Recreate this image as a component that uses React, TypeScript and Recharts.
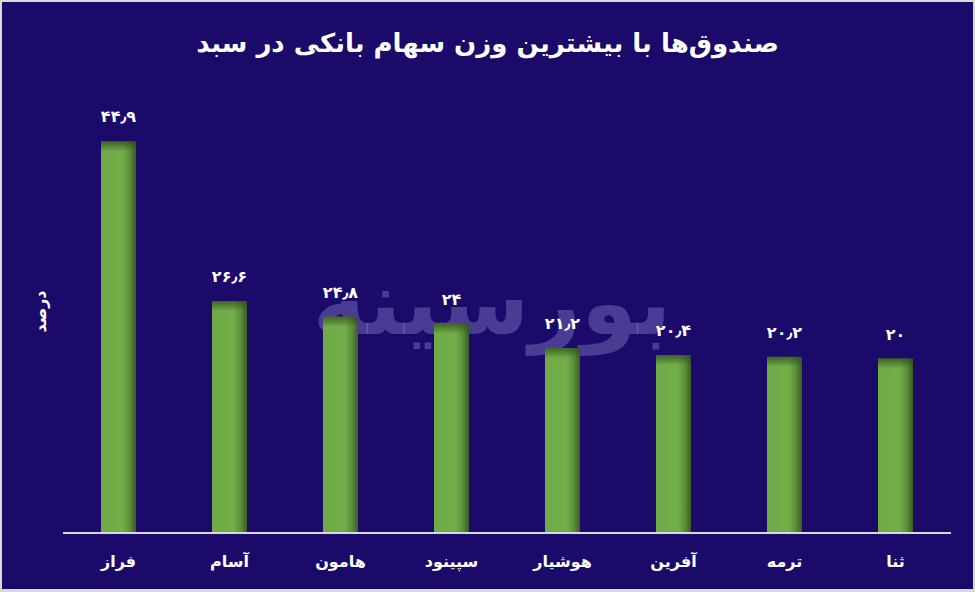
import { BarChart, Bar, XAxis, YAxis, LabelList } from 'recharts';

const funds = ['فراز', 'آسام', 'هامون', 'سپینود', 'هوشیار', 'آفرین', 'ترمه', 'ثنا'];
const weights = [44.9, 26.6, 24.8, 24, 21.2, 20.4, 20.2, 20];

const title = 'صندوق‌ها با بیشترین وزن سهام بانکی در سبد';
const yLabel = 'درصد';
const watermark = 'بورسینه';

const BG = '#1b0a69';
const FONT = '"DejaVu Sans", sans-serif';

const toFa = (v: number | string) =>
  String(v).replace('.', '٫').replace(/\d/g, d => '۰۱۲۳۴۵۶۷۸۹'[Number(d)]);

const data = funds.map((name, i) => ({ name, value: weights[i] }));

const GreenBar = (props: any) => {
  const { x, y, width, height } = props;
  if (!height || height <= 0) return null;
  return (
    <g>
      <rect x={x} y={y} width={width} height={height} fill="url(#barH)" />
      <rect x={x} y={y} width={width} height={Math.min(10, height)} fill="url(#barTop)" />
    </g>
  );
};

const FundTick = (props: any) => {
  const { x, y, payload } = props;
  return (
    <text x={x} y={y + 21} textAnchor="middle" dominantBaseline="middle"
      fill="#fff" fontSize={16} fontWeight="bold" fontFamily={FONT}>
      {payload.value}
    </text>
  );
};

export default function App() {
  return (
    <div style={{ position: 'absolute', left: 0, top: 0, width: 975, height: 592, background: '#d9d9d9' }}>
      <div style={{ position: 'absolute', left: 2, top: 2, width: 971, height: 587, background: BG, overflow: 'hidden' }}>
        <div style={{
          position: 'absolute', left: 0, top: 26, width: 971, textAlign: 'center',
          color: '#fff', fontFamily: FONT, fontWeight: 'bold', fontSize: 26, direction: 'rtl',
        }}>
          {title}
        </div>
        <div style={{
          position: 'absolute', left: 280, top: 248, width: 420, textAlign: 'center',
          color: 'rgba(120,110,190,0.5)', fontFamily: FONT, fontWeight: 'bold', fontSize: 90, direction: 'rtl',
        }}>
          {watermark}
        </div>
        <div style={{
          position: 'absolute', left: 0, top: 300, width: 76, textAlign: 'center',
          color: '#fff', fontFamily: FONT, fontWeight: 'bold', fontSize: 16, direction: 'rtl',
          transform: 'rotate(-90deg)',
        }}>
          {yLabel}
        </div>
        <div style={{ position: 'absolute', left: 0, top: 0 }}>
          <BarChart width={971} height={587} data={data}
            margin={{ top: 95, right: 22, bottom: 16, left: 61 }}>
            <defs>
              <linearGradient id="barH" x1="0" y1="0" x2="1" y2="0">
                <stop offset="0%" stopColor="#6eab47" />
                <stop offset="62%" stopColor="#71ae48" />
                <stop offset="82%" stopColor="#5c8f3a" />
                <stop offset="100%" stopColor="#3b5c24" />
              </linearGradient>
              <linearGradient id="barTop" x1="0" y1="0" x2="0" y2="1">
                <stop offset="0%" stopColor="#2f4a1c" stopOpacity={0.75} />
                <stop offset="100%" stopColor="#2f4a1c" stopOpacity={0} />
              </linearGradient>
            </defs>
            <XAxis dataKey="name" height={40} tickLine={false} interval={0}
              axisLine={{ stroke: '#d9d9d9', strokeWidth: 2 }} tick={<FundTick />} />
            <YAxis hide domain={[0, 50]} />
            <Bar dataKey="value" barSize={35} shape={<GreenBar />} isAnimationActive={false}>
              <LabelList dataKey="value" position="top" offset={19} formatter={(v: any) => toFa(v)}
                fill="#fff" fontSize={16} fontWeight="bold" fontFamily={FONT} />
            </Bar>
          </BarChart>
        </div>
      </div>
    </div>
  );
}
